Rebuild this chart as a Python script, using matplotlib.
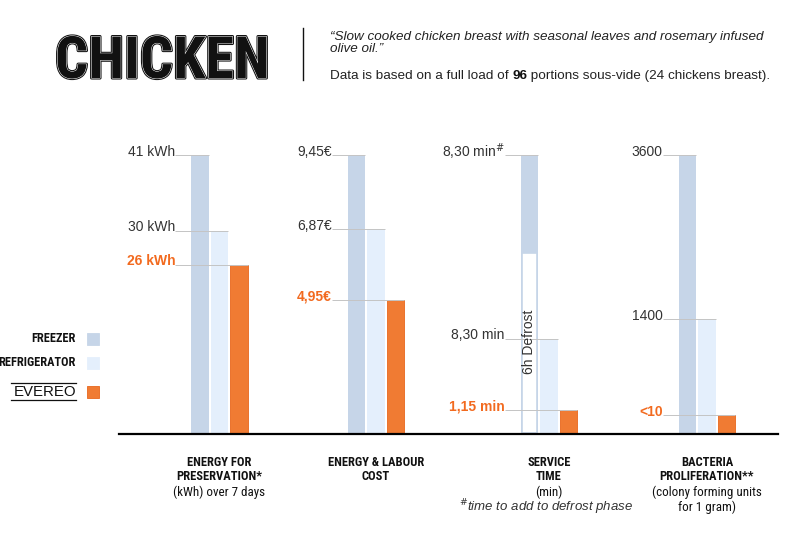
import matplotlib
matplotlib.use("Agg")
import matplotlib.pyplot as plt
import matplotlib.patheffects as pe
from matplotlib import font_manager

# bar heights as drawn, in percent of the tallest bar of each group
freezer_h = [100, 100, 100, 100]
fridge_h = [72.8, 73.4, 34.1, 41.1]
evereo_h = [60.6, 48.0, 8.6, 6.8]
defrost_h = 64.8  # white "6h Defrost" part of the service time bar

freezer_lbl = ["41 kWh", "9,45€", r"8,30 min$^{\#}$", "3600"]
fridge_lbl = ["30 kWh", "6,87€", "8,30 min", "1400"]
evereo_lbl = ["26 kWh", "4,95€", "1,15 min", "<10"]

cat_bold = [["ENERGY FOR", "PRESERVATION*"],
            ["ENERGY & LABOUR", "COST"],
            ["SERVICE", "TIME"],
            ["BACTERIA", "PROLIFERATION**"]]
cat_plain = [["(kWh) over 7 days"],
             [],
             ["(min)"],
             ["(colony forming units", "for 1 gram)"]]

legend_names = ["FREEZER", "REFRIGERATOR", "EVEREO"]

C_FREEZER = "#c6d5e8"
C_FRIDGE = "#e4effc"
C_EVEREO = "#f07b33"
C_ORANGE_TXT = "#f26a1f"
C_LEAD = "#c4c4c4"

SANS = ["Liberation Sans", "DejaVu Sans"]

installed = {f.name for f in font_manager.fontManager.ttflist}
NARROW = [n for n in ["Liberation Sans Narrow", "Roboto Condensed",
                      "Open Sans Condensed", "DejaVu Sans Condensed"]
          if n in installed] + ["Liberation Sans", "DejaVu Sans"]

W, H = 800, 533
fig = plt.figure(figsize=(W / 100, H / 100), dpi=100)

# overlay in pixel coordinates for header, legend and category labels
ov = fig.add_axes([0, 0, 1, 1])
ov.set_xlim(0, W)
ov.set_ylim(H, 0)
ov.axis("off")

# main chart axes, x in pixel units
x0, x1 = 119, 778
base_y, top_y = 434, 155
ax = fig.add_axes([x0 / W, (H - base_y) / H, (x1 - x0) / W, (base_y - top_y) / H])
ax.set_xlim(x0, x1)
ax.set_ylim(0, 100)
ax.axis("off")

centers = [219.5, 376, 549, 707]
off = 19.5
bw = 17.5

fx = [c - off for c in centers]
rx = centers
ex = [c + off for c in centers]

ax.bar(fx, freezer_h, width=bw, color=C_FREEZER, zorder=2)
ax.bar(rx, fridge_h, width=bw, color=C_FRIDGE, zorder=2)
ax.bar(ex, evereo_h, width=bw, color=C_EVEREO, edgecolor="#e8661c",
       linewidth=0.6, zorder=2)

# defrost part of the freezer service time bar
ax.bar(fx[2], defrost_h - 0.5, bottom=0.5, width=bw - 3, color="white",
       edgecolor=C_FREEZER, linewidth=1.2, zorder=2.5)
ax.text(fx[2] - 0.5, 33, "6h Defrost", rotation=90, ha="center", va="center",
        fontsize=10, family=SANS, color="#333333", zorder=4)

ax.axhline(0, color="black", linewidth=1.6, zorder=5, clip_on=False)

# value labels with leader lines
for i, c in enumerate(centers):
    lab_x = fx[i] - bw / 2 - 16
    rows = [(freezer_h[i], freezer_lbl[i], fx[i], "#333333", "normal"),
            (fridge_h[i], fridge_lbl[i], rx[i], "#333333", "normal"),
            (evereo_h[i], evereo_lbl[i], ex[i], C_ORANGE_TXT, "bold")]
    for h, txt, bx, col, wt in rows:
        ax.plot([lab_x, bx + bw / 2], [h, h], color=C_LEAD, linewidth=0.7,
                zorder=3, solid_capstyle="butt", clip_on=False)
        ax.annotate(txt, xy=(lab_x, h), xytext=(0, 3.5),
                    textcoords="offset pixels", ha="right", va="center",
                    fontsize=10, family=SANS, color=col, fontweight=wt,
                    annotation_clip=False)

# category labels
line_y = [462, 477, 492, 507]
for i, c in enumerate(centers):
    k = 0
    for s in cat_bold[i]:
        ov.text(c, line_y[k], s, ha="center", va="center", fontsize=9,
                family=NARROW, fontweight="bold", color="#111111")
        k += 1
    for s in cat_plain[i]:
        ov.text(c, line_y[k], s, ha="center", va="center", fontsize=9.4,
                family=NARROW, color="#111111")
        k += 1
ov.text(centers[2] - 3, line_y[3], r"$^{\#}$time to add to defrost phase",
        ha="center", va="center", fontsize=9.5, family=SANS, style="italic",
        color="#333333")

# legend
leg_y = [339, 363, 392]
leg_c = [C_FREEZER, C_FRIDGE, C_EVEREO]
for name, y, col in zip(legend_names, leg_y, leg_c):
    ov.add_patch(plt.Rectangle((87, y - 6), 12, 12, facecolor=col,
                               edgecolor="#e8661c" if col == C_EVEREO else col,
                               linewidth=0.6))
    if name == "EVEREO":
        ov.text(76, y, name, ha="right", va="center", fontsize=10.8,
                family=SANS, color="#111111")
        ov.plot([11, 76], [383, 383], color="#111111", linewidth=0.9)
        ov.plot([11, 76], [400, 400], color="#111111", linewidth=0.9)
    else:
        ov.text(76, y, name, ha="right", va="center", fontsize=8.8,
                family=NARROW, fontweight="bold", color="#111111")

# header
ov.text(55, 78, "CHICKEN", ha="left", va="baseline", fontsize=42,
        family=NARROW, fontweight="bold", color="#111111",
        path_effects=[pe.Stroke(linewidth=2.2, foreground="#111111"),
                      pe.Stroke(linewidth=0.7, foreground="white"),
                      pe.Normal()])
ov.plot([303, 303], [28, 80], color="#111111", linewidth=1.0)

ov.text(330, 37, "\u201cSlow cooked chicken breast with seasonal leaves and rosemary infused",
        ha="left", va="center", fontsize=9.7, family=SANS, style="italic",
        color="#222222")
ov.text(330, 49, "olive oil.\u201d", ha="left", va="center", fontsize=9.7,
        family=SANS, style="italic", color="#222222")

renderer = fig.canvas.get_renderer()
t1 = ov.text(330, 76, "Data is based on a full load of ", ha="left",
             va="center", fontsize=9.7, family=SANS, color="#222222")
bb = t1.get_window_extent(renderer)
t2 = ov.text(bb.x1, 76, "96", ha="left", va="center", fontsize=9.7,
             family=SANS, fontweight="bold", color="#111111")
bb2 = t2.get_window_extent(renderer)
ov.text(bb2.x1, 76, " portions sous-vide (24 chickens breast).", ha="left",
        va="center", fontsize=9.7, family=SANS, color="#222222")

fig.savefig("out.png", dpi=100)
